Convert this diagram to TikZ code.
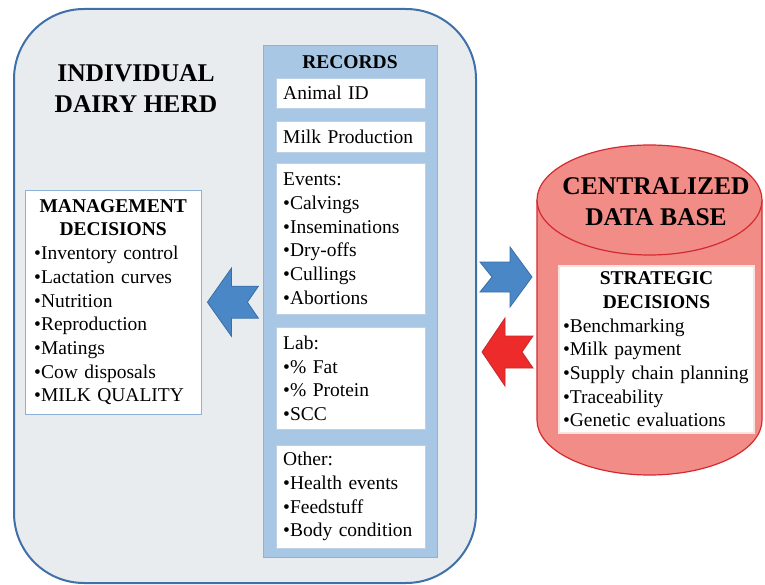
\documentclass[tikz,border=0pt]{standalone}
\usepackage{fontspec}
\setmainfont{Liberation Serif}
\usetikzlibrary{positioning}

\definecolor{herdfill}{HTML}{E8ECEF}
\definecolor{herdline}{HTML}{3F70A9}
\definecolor{recfill}{HTML}{A8C7E5}
\definecolor{recline}{HTML}{8DB2D8}
\definecolor{arrblue}{HTML}{4A87C6}
\definecolor{arrblueline}{HTML}{3A6EA6}
\definecolor{arrred}{HTML}{EE2B2B}
\definecolor{arrredline}{HTML}{C4262B}
\definecolor{dbfill}{HTML}{F28C86}
\definecolor{dbline}{HTML}{D42A2F}

\begin{document}
\begin{tikzpicture}[x=1pt,y=-1pt,
	txt/.style={font=\fontsize{19.5}{23.7}\selectfont},
	head/.style={font=\fontsize{25.5}{31}\selectfont\bfseries,align=center},
	recbox/.style={txt,draw=recline!60,fill=white,anchor=north west,align=left,
		text width=135pt,inner xsep=7pt,inner ysep=0pt},
	bluearrow/.style={fill=arrblue,draw=arrblueline,line width=0.8pt},
	redarrow/.style={fill=arrred,draw=arrredline,line width=0.8pt}]

\useasboundingbox (0,0) rectangle (765,585);

% herd
\node[draw=herdline,fill=herdfill,line width=2pt,rounded corners=70pt,anchor=north west,
	minimum width=462pt,minimum height=574pt] (herd) at (13,8) {};
\node[head] (herdtitle) at (136,89) {INDIVIDUAL\\DAIRY HERD};

% records
\node[draw=recline,fill=recfill,line width=1pt,anchor=north west,
	minimum width=174pt,minimum height=512pt] (records) at (263,45) {};
\node[txt,font=\fontsize{19.5}{23.7}\selectfont\bfseries] (rectitle) at (350,62) {RECORDS};
\node[recbox,minimum height=30pt] (animal) at (276,78) {Animal ID};
\node[recbox,minimum height=31pt] (milk) at (276,121) {Milk Production};
\node[recbox,minimum height=151pt] (events) at (276,163)
	{Events:\\•Calvings\\•Inseminations\\•Dry-offs\\•Cullings\\•Abortions};
\node[recbox,minimum height=102pt] (lab) at (276,327)
	{Lab:\\•\% Fat\\•\% Protein\\•SCC};
\node[recbox,minimum height=103pt] (other) at (276,445)
	{Other:\\•Health events\\•Feedstuff\\•Body condition};

% management
\node[txt,draw=recline,fill=white,anchor=north west,align=left,text width=158pt,
	inner xsep=9pt,inner ysep=0pt,minimum height=224pt] (mgmt) at (25,190)
	{{\centering\bfseries MANAGEMENT\\DECISIONS\par}
	•Inventory control\\•Lactation curves\\•Nutrition\\•Reproduction\\•Matings\\
	•Cow disposals\\•MILK QUALITY};

% data base
\coordinate (db) at (649.5,200);
\path[fill=dbfill,draw=dbline,line width=1.2pt] (537,200) -- (537,420)
	arc[start angle=180,end angle=360,x radius=112.5pt,y radius=55pt] -- (762,200);
\draw[fill=dbfill,draw=dbline,line width=1.2pt] (db) ellipse [x radius=112.5pt,y radius=55pt];
\node[head] (dbtitle) at (656,202) {CENTRALIZED\\DATA BASE};
\node[txt,draw=dbfill!25,line width=2pt,fill=white,anchor=north west,align=left,
	text width=187pt,inner xsep=4pt,inner ysep=0pt,minimum height=167pt] (strat) at (558,265)
	{{\centering\bfseries STRATEGIC\\DECISIONS\par}
	•Benchmarking\\•Milk payment\\•Supply chain planning\\•Traceability\\•Genetic evaluations};

% arrows
\coordinate (toDB) at (532,277);
\coordinate (fromDB) at (482,352);
\draw[bluearrow] ([xshift=6pt]mgmt.east) -- ++(24,-34) -- ++(0,18) -- ++(27,0) -- ++(-11,16)
	-- ++(11,16) -- ++(-27,0) -- ++(0,18) -- cycle;
\draw[bluearrow] (toDB) -- ++(-22,-30) -- ++(0,15) -- ++(-30,0) -- ++(12,15)
	-- ++(-12,15) -- ++(30,0) -- ++(0,15) -- cycle;
\draw[redarrow] (fromDB) -- ++(23,-34) -- ++(0,18) -- ++(28,0) -- ++(-11,16)
	-- ++(11,16) -- ++(-28,0) -- ++(0,18) -- cycle;
\end{tikzpicture}
\end{document}
